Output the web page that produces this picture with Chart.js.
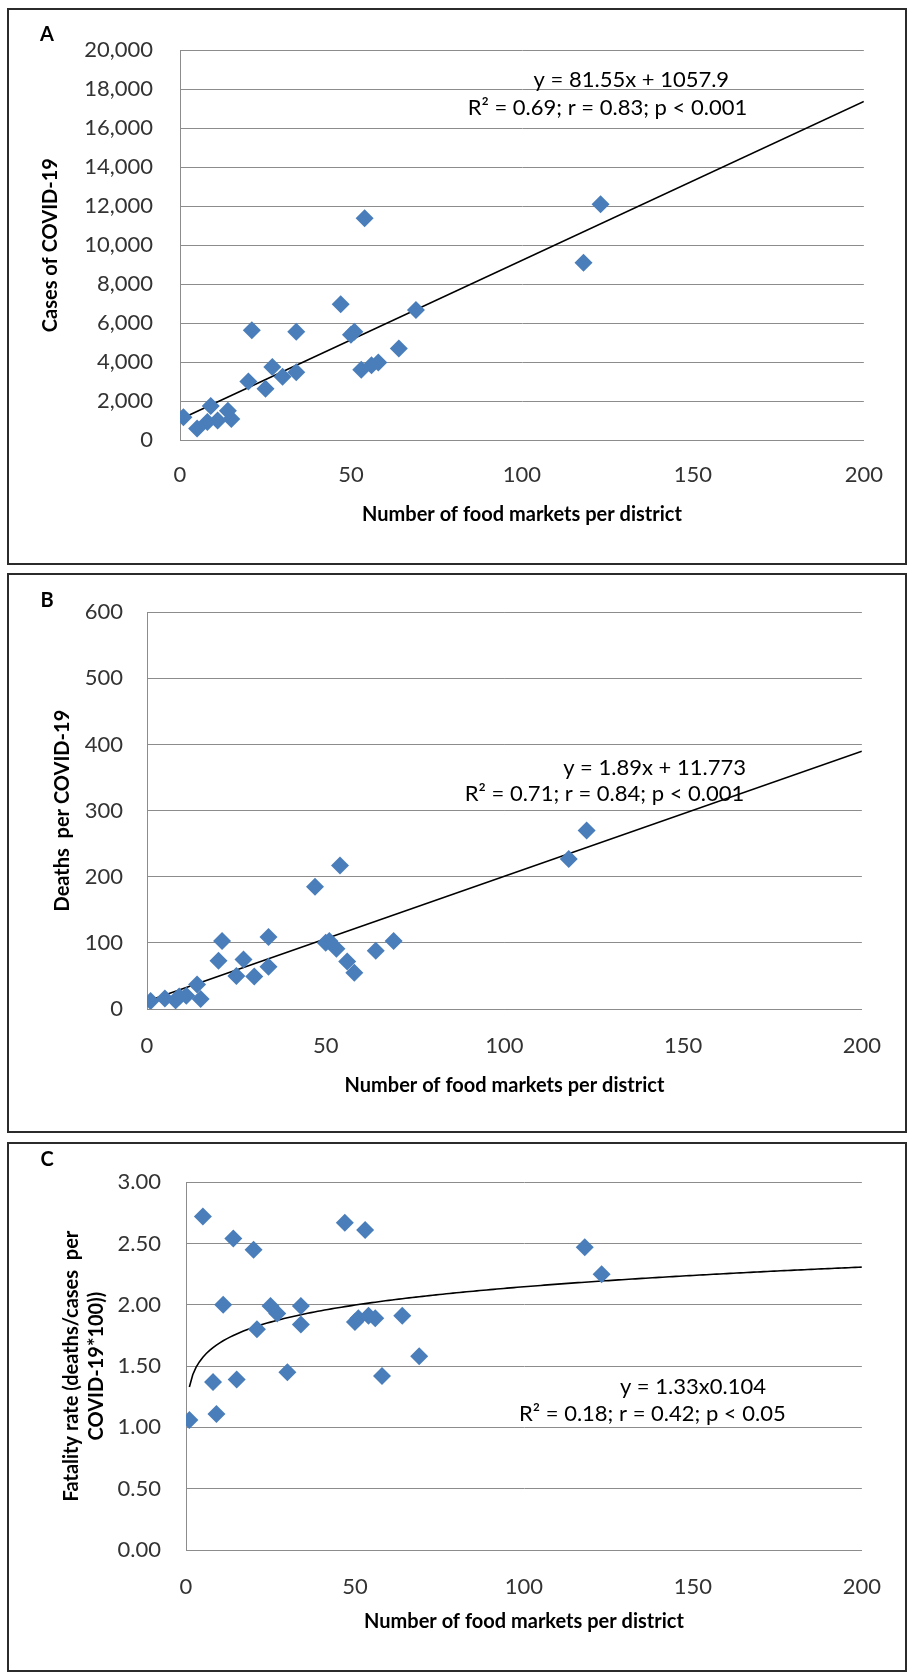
<!DOCTYPE html>
<html>
<head>
<meta charset="utf-8">
<title>Food markets and COVID-19</title>
<script src="https://cdn.jsdelivr.net/npm/chart.js@4.4.1/dist/chart.umd.min.js"></script>
<style>
    html, body { margin: 0; padding: 0; background: #fff; }
    body { width: 914px; height: 1675px; position: relative; overflow: hidden; }
    .panel { position: absolute; left: 7px; width: 896px; border: 2px solid #2b2b2b; background: #fff; }
    .panel canvas { display: block; }
</style>
</head>
<body>
<div class="panel" style="top:8px;height:553px"><canvas id="chartA" width="896" height="553"></canvas></div>
<div class="panel" style="top:573px;height:556px"><canvas id="chartB" width="896" height="556"></canvas></div>
<div class="panel" style="top:1142px;height:526px"><canvas id="chartC" width="896" height="526"></canvas></div>
<script>
// one entry per district
const markets  = [1, 5, 8, 9, 11, 14, 15, 20, 21, 25, 27, 30, 34, 34, 47, 50, 51, 53, 54, 56, 58, 64, 69, 118, 123];
const cases    = [1170, 590, 920, 1750, 1000, 1500, 1080, 3000, 5630, 2630, 3750, 3250, 5550, 3470, 6970, 5400, 5550, 3600, 11380, 3830, 3970, 4700, 6670, 9100, 12100];
const deaths   = [12, 16, 13, 19, 20, 37, 15, 73, 103, 50, 75, 49, 109, 64, 185, 100, 103, 91, 217, 72, 55, 88, 103, 227, 270];
const fatality = [1.06, 2.72, 1.37, 1.11, 2.00, 2.54, 1.39, 2.45, 1.80, 1.99, 1.93, 1.45, 1.99, 1.84, 2.67, 1.86, 1.89, 2.61, 1.91, 1.89, 1.42, 1.91, 1.58, 2.47, 2.25];

// axis ticks
const marketTicks   = [0, 50, 100, 150, 200];
const casesTicks    = [0, 2000, 4000, 6000, 8000, 10000, 12000, 14000, 16000, 18000, 20000];
const deathsTicks   = [0, 100, 200, 300, 400, 500, 600];
const fatalityTicks = [0, 0.5, 1, 1.5, 2, 2.5, 3];

// fitted trendlines as printed on the chart
const casesFit    = { slope: 81.55, intercept: 1057.9 };
const deathsFit   = { slope: 1.89, intercept: 11.773 };
const fatalityFit = { coef: 1.33, power: 0.104 };
const trendEnd = 200;

const casesEq    = ['y = 81.55x + 1057.9', 'R\u00b2 = 0.69; r = 0.83; p < 0.001'];
const deathsEq   = ['y = 1.89x + 11.773', 'R\u00b2 = 0.71; r = 0.84; p < 0.001'];
const fatalityEq = ['y = 1.33x0.104', 'R\u00b2 = 0.18; r = 0.42; p < 0.05'];

const MARKER = '#4a7ebb';
const GRID = '#8c8c8c';
Chart.defaults.font.family = 'Lato, "Liberation Sans", sans-serif';

// panel letter + regression text
const annotate = {
    id: 'annotate',
    afterDatasetsDraw(chart, args, o) {
        const { ctx, scales: { x, y } } = chart;
        ctx.save();
        ctx.fillStyle = '#000';
        ctx.textBaseline = 'middle';
        ctx.textAlign = 'center';
        ctx.font = 'bold 20px Lato';
        ctx.fillText(o.letter, o.letterAt[0], o.letterAt[1]);
        ctx.font = '22px Lato';
        o.text.forEach((t, i) => {
            ctx.fillText(t, x.getPixelForValue(o.textAt[i][0]), y.getPixelForValue(o.textAt[i][1]));
        });
        ctx.restore();
    }
};

function toPoints(xs, ys) {
    return xs.map((x, i) => ({ x: x, y: ys[i] }));
}

function linearTrend(fit) {
    const x0 = Math.min(...markets);
    return [x0, trendEnd].map(x => ({ x: x, y: fit.slope * x + fit.intercept }));
}

function powerTrend(fit) {
    const pts = [];
    for (let x = Math.min(...markets); x <= trendEnd; x += 1) {
        pts.push({ x: x, y: fit.coef * Math.pow(x, fit.power) });
    }
    return pts;
}

function buildPanel(id, p) {
    const tickFont = { size: 22 };
    new Chart(document.getElementById(id), {
        type: 'scatter',
        data: {
            datasets: [
                {
                    data: toPoints(markets, p.values),
                    pointStyle: 'rectRot',
                    pointRadius: 9,
                    pointHoverRadius: 9,
                    backgroundColor: MARKER,
                    borderColor: MARKER,
                    borderWidth: 0
                },
                {
                    type: 'line',
                    data: p.trend,
                    borderColor: '#000',
                    borderWidth: 1.6,
                    pointRadius: 0,
                    tension: 0,
                    fill: false
                }
            ]
        },
        options: {
            responsive: false,
            animation: false,
            events: [],
            layout: { padding: p.padding },
            plugins: {
                legend: { display: false },
                tooltip: { enabled: false },
                annotate: { letter: p.letter, letterAt: p.letterAt, text: p.text, textAt: p.textAt }
            },
            scales: {
                x: {
                    type: 'linear',
                    min: 0,
                    max: 200,
                    afterBuildTicks: s => { s.ticks = marketTicks.map(v => ({ value: v })); },
                    afterFit: s => { s.height = p.xHeight; },
                    grid: { display: false, drawTicks: false },
                    border: { color: GRID, width: 1 },
                    ticks: { color: '#333', font: tickFont, padding: p.xTickPad, maxRotation: 0 },
                    title: {
                        display: true,
                        text: 'Number of food markets per district',
                        color: '#000',
                        font: { size: 20, weight: 'bold', lineHeight: 1.2 },
                        padding: { top: 0, bottom: p.xTitlePad }
                    }
                },
                y: {
                    min: 0,
                    max: p.yMax,
                    afterBuildTicks: s => { s.ticks = p.ticks.map(v => ({ value: v })); },
                    afterFit: s => { s.width = p.yWidth; },
                    grid: { color: GRID, lineWidth: 1, drawTicks: false },
                    border: { color: GRID, width: 1 },
                    ticks: { color: '#333', font: tickFont, padding: p.yTickPad, callback: p.format },
                    title: {
                        display: true,
                        text: p.yTitle,
                        color: '#000',
                        font: { size: 20, weight: 'bold', lineHeight: 1.25 },
                        padding: { top: p.yTitlePad, bottom: 0 }
                    }
                }
            }
        },
        plugins: [annotate]
    });
}

buildPanel('chartA', {
    values: cases,
    trend: linearTrend(casesFit),
    ticks: casesTicks,
    yMax: 20000,
    format: v => v.toLocaleString('en-US'),
    yTitle: 'Cases of COVID-19',
    padding: { left: 20, top: 28, right: 37, bottom: 20 },
    yWidth: 151, yTickPad: 27, yTitlePad: 9,
    xHeight: 103, xTickPad: 22, xTitlePad: 16,
    letter: 'A', letterAt: [38, 25],
    text: casesEq, textAt: [[132, 18500], [125, 17050]]
});

buildPanel('chartB', {
    values: deaths,
    trend: linearTrend(deathsFit),
    ticks: deathsTicks,
    yMax: 600,
    format: v => String(v),
    yTitle: 'Deaths  per COVID-19',
    padding: { left: 20, top: 26, right: 42, bottom: 20 },
    yWidth: 118, yTickPad: 24, yTitlePad: 21,
    xHeight: 102, xTickPad: 24, xTitlePad: 13,
    letter: 'B', letterAt: [38, 26],
    text: deathsEq, textAt: [[142, 365], [128, 325]]
});

buildPanel('chartC', {
    values: fatality,
    trend: powerTrend(fatalityFit),
    ticks: fatalityTicks,
    yMax: 3,
    format: v => v.toFixed(2),
    yTitle: ['Fatality rate (deaths/cases  per', 'COVID-19*100))'],
    padding: { left: 20, top: 26, right: 37, bottom: 20 },
    yWidth: 157, yTickPad: 25, yTitlePad: 30,
    xHeight: 100, xTickPad: 24, xTitlePad: 16,
    letter: 'C', letterAt: [38, 16],
    text: fatalityEq, textAt: [[150, 1.33], [138, 1.11]]
});
</script>
</body>
</html>
